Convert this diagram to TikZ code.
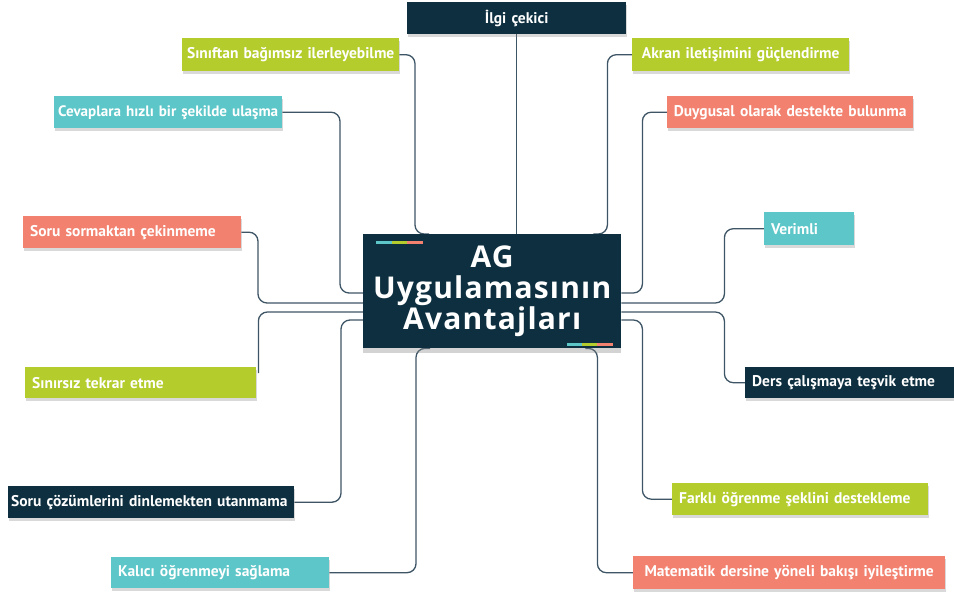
\documentclass[tikz,border=0pt]{standalone}
\usepackage{fontspec}
\setmainfont{PT Sans}
\newfontfamily\titlefont[LetterSpace=4]{Open Sans}
\usetikzlibrary{shadows}
\definecolor{navy}{HTML}{0D2F3F}
\definecolor{lime}{HTML}{B5CD2C}
\definecolor{tealc}{HTML}{5CC6C8}
\definecolor{salmon}{HTML}{F2826F}
\definecolor{lineclr}{HTML}{3E5566}
\pgfdeclarelayer{bg}
\pgfsetlayers{bg,main}
\begin{document}
\begin{tikzpicture}[x=1pt,y=-1pt,
  box/.style={anchor=north west, inner xsep=7pt, inner ysep=0pt, minimum height=32pt,
    font=\bfseries\fontsize{15.5}{17}\selectfont, text=white,
    drop shadow={shadow xshift=0.5pt, shadow yshift=-3pt, opacity=0.3}},
  conn/.style={draw=lineclr, line width=1.3pt, rounded corners=9pt},
  bar/.style={line width=3pt}]
\useasboundingbox (0,0) rectangle (954,596);

% centre
\node[anchor=north west, fill=navy, minimum width=258pt, minimum height=114pt, inner sep=0pt,
  drop shadow={shadow xshift=0pt, shadow yshift=-5pt, opacity=0.35},
  text=white, align=center, font=\titlefont\bfseries\fontsize{30}{31}\selectfont] (c) at (363,234)
  {AG\\Uygulamasının\\Avantajları};
\draw[bar, tealc] ([xshift=13pt,yshift=-9pt]c.north west) -- ++(16,0);
\draw[bar, lime] ([xshift=29pt,yshift=-9pt]c.north west) -- ++(15,0);
\draw[bar, salmon] ([xshift=44pt,yshift=-9pt]c.north west) -- ++(16,0);
\draw[bar, tealc] ([xshift=-54pt,yshift=4pt]c.south east) -- ++(15,0);
\draw[bar, lime] ([xshift=-39pt,yshift=4pt]c.south east) -- ++(15,0);
\draw[bar, salmon] ([xshift=-24pt,yshift=4pt]c.south east) -- ++(16,0);

% boxes
\node[box, fill=navy, align=center, text width=205pt] (ilgi) at (407,2) {İlgi çekici};
\node[box, fill=lime, align=center, inner xsep=3pt, text width=211pt, minimum height=33pt] (sin) at (182,38) {\mbox{Sınıftan bağımsız ilerleyebilme}};
\node[box, fill=tealc, align=center, inner xsep=3pt, text width=222pt, font=\bfseries\fontsize{15.1}{17}\selectfont] (cev) at (54,96) {\mbox{Cevaplara hızlı bir şekilde ulaşma}};
\node[box, fill=salmon, align=left, text width=204pt] (sor) at (23,216) {Soru sormaktan çekinmeme};
\node[box, fill=lime, align=left, text width=217pt, minimum height=31pt] (sir) at (25,367) {Sınırsız tekrar etme};
\node[box, fill=navy, align=left, inner xsep=3pt, text width=280pt] (soc) at (8,486) {\mbox{Soru çözümlerini dinlemekten utanmama}};
\node[box, fill=tealc, align=left, text width=204pt, minimum height=31pt] (kal) at (111,557) {Kalıcı öğrenmeyi sağlama};
\node[box, fill=lime, align=center, text width=203pt, minimum height=33pt] (akr) at (632,38) {Akran iletişimini güçlendirme};
\node[box, fill=salmon, align=center, inner xsep=3pt, text width=240pt] (duy) at (667,96) {\mbox{Duygusal olarak destekte bulunma}};
\node[box, fill=tealc, align=left, text width=76pt, minimum height=33pt] (ver) at (764,212) {Verimli};
\node[box, fill=navy, align=left, text width=195pt, minimum height=31pt] (ders) at (745,367) {Ders çalışmaya teşvik etme};
\node[box, fill=lime, align=left, text width=242pt] (far) at (672,483) {\mbox{Farklı öğrenme şeklini destekleme}};
\node[box, fill=salmon, align=center, text width=298pt, minimum height=33pt] (mat) at (633,556) {\mbox{Matematik dersine yöneli bakışı iyileştirme}};

% connectors
\begin{pgfonlayer}{bg}
\draw[conn] (ilgi.south) -- (ilgi.south |- c.north);
\draw[conn] (sin.east) -| ([xshift=52pt]c.north west) -- ++(14,0);
\draw[conn] (cev.east) -| ([xshift=-23pt,yshift=-59pt]c.north west) -- ([yshift=-59pt]c.north west);
\draw[conn] (sor.east) -| ([xshift=-105pt,yshift=-69pt]c.north west) -- ([yshift=-69pt]c.north west);
\draw[conn] ([yshift=-78pt]c.north west) -| ([xshift=2pt,yshift=-6pt]sir.north east);
\draw[conn] ([yshift=-86pt]c.north west) -- ++(-22,0) |- (soc.east);
\draw[conn] (kal.east) -| ([xshift=53pt]c.south west) -- ++(14,0);
\draw[conn] (akr.west) -| ([xshift=-14pt]c.north east) -- ++(-14,0);
\draw[conn] (duy.west) -| ([xshift=21pt,yshift=-59pt]c.north east) -- ([yshift=-59pt]c.north east);
\draw[conn] (ver.west) -| ([xshift=103pt,yshift=-69pt]c.north east) -- ([yshift=-69pt]c.north east);
\draw[conn] ([yshift=-78pt]c.north east) -- ++(103,0) |- (ders.west);
\draw[conn] ([yshift=-86pt]c.north east) -- ++(21,0) |- (far.west);
\draw[conn] ([xshift=-36pt]c.south east) -- ++(12,0) |- (mat.west);
\end{pgfonlayer}
\end{tikzpicture}
\end{document}
